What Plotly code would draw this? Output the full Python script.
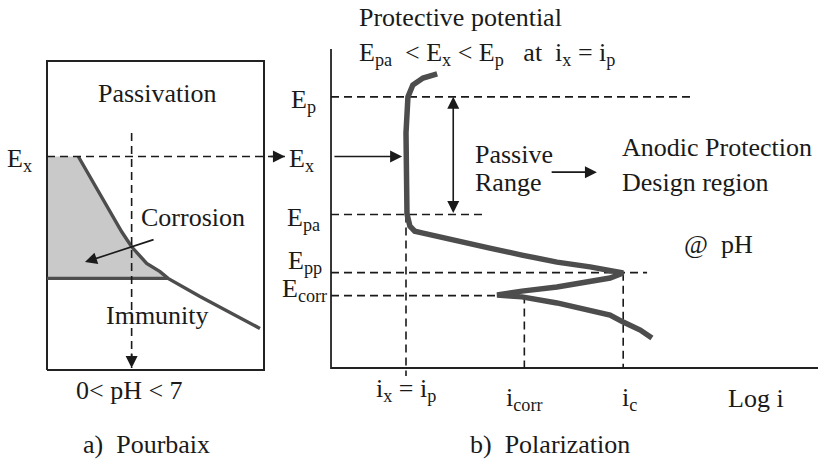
import plotly.graph_objects as go

# ---- potential levels (arbitrary units), shared by both panels ----
E_P, E_X, E_PA, E_PP, E_CORR = 8.50, 6.63, 4.81, 2.99, 2.27
E_AXIS_TOP = 10.0

# ---- current levels on the log-i axis (arbitrary decades) ----
I_P, I_CORR, I_C = 1.54, 3.97, 6.00
LOGI_AXIS_END = 10.0

# anodic polarization curve (log i, E)
curve_logi = [2.18, 1.89, 1.68, 1.58, 1.54, 1.54, 1.54, 1.56, 1.62, 1.72, 1.89,
              2.59, 3.26, 3.92, 4.64, 5.32, 5.77, 6.00, 5.73, 5.32, 4.64, 3.92,
              3.41, 3.68, 3.92, 4.64, 5.32, 5.73, 6.00, 6.35, 6.59]
curve_E = [9.22, 9.09, 8.87, 8.50, 7.37, 6.65, 5.58, 4.83, 4.45, 4.29, 4.23,
           4.01, 3.76, 3.54, 3.32, 3.17, 3.04, 2.98, 2.82, 2.70, 2.54, 2.41,
           2.29, 2.26, 2.23, 2.04, 1.82, 1.66, 1.44, 1.19, 0.94]

# Pourbaix diagram: frame, corrosion boundary, immunity line
PH_MIN, PH_MAX = 0.0, 14.0
POURBAIX_E_MIN, POURBAIX_E_MAX = -0.06, 9.62
boundary_ph = [2.02, 2.77, 3.53, 4.17, 4.82, 5.46, 6.43, 7.29, 7.81, 9.87, 13.74]
boundary_E = [6.63, 6.00, 5.37, 4.80, 4.27, 3.80, 3.28, 3.02, 2.81, 2.24, 1.24]
E_IMMUNITY = 2.81
PH_IMMUNITY_END = 7.81
PH_MARK = 5.46          # the 0<pH<7 working point
PH_EX_ARROW_END = 15.35

FONT = "Liberation Serif, Times New Roman, DejaVu Serif, serif"
INK = "#1a1a1a"
CURVE = "#4d4d4d"
DASH = "8px,5px"

fig = go.Figure()


def line(xs, ys, axis="x", color=INK, width=1.6, dash=None, **kw):
    fig.add_trace(go.Scatter(x=xs, y=ys, xaxis=axis, yaxis="y", mode="lines",
                             line=dict(color=color, width=width, dash=dash),
                             hoverinfo="skip", showlegend=False, **kw))


# ---------------- a) Pourbaix ----------------
n_corner = boundary_ph.index(PH_IMMUNITY_END) + 1
fill_x = [PH_MIN] + boundary_ph[:n_corner] + [PH_MIN, PH_MIN]
fill_y = [E_X] + boundary_E[:n_corner] + [E_IMMUNITY, E_X]
fig.add_trace(go.Scatter(x=fill_x, y=fill_y, xaxis="x", yaxis="y", mode="lines",
                         fill="toself", fillcolor="#c9c9c9",
                         line=dict(width=0), hoverinfo="skip", showlegend=False))

line([PH_MIN, PH_MAX, PH_MAX, PH_MIN, PH_MIN],
     [POURBAIX_E_MIN, POURBAIX_E_MIN, POURBAIX_E_MAX, POURBAIX_E_MAX, POURBAIX_E_MIN],
     width=2, color="#222")
line(boundary_ph, boundary_E, color=CURVE, width=3.4)
line([PH_MIN, PH_IMMUNITY_END], [E_IMMUNITY, E_IMMUNITY], color=CURVE, width=3.4)
line([PH_MIN, PH_EX_ARROW_END], [E_X, E_X], dash=DASH)
line([PH_MARK, PH_MARK], [7.37, 0.0], dash=DASH)

# ---------------- b) Polarization ----------------
line([0, 0, LOGI_AXIS_END], [E_AXIS_TOP, 0, 0], axis="x2", width=1.8, color="#222")
line([0, 7.45], [E_P, E_P], axis="x2", dash=DASH)
line([0, 3.16], [E_PA, E_PA], axis="x2", dash=DASH)
line([0, 6.49], [E_PP, E_PP], axis="x2", dash=DASH)
line([0, 3.55], [E_CORR, E_CORR], axis="x2", dash=DASH)
line([I_P, I_P], [E_PA, -0.25], axis="x2", dash=DASH)
line([I_CORR, I_CORR], [E_CORR, 0], axis="x2", dash=DASH)
line([I_C, I_C], [E_PP, 0], axis="x2", dash=DASH)
line(curve_logi, curve_E, axis="x2", color=CURVE, width=5.5)

# ---------------- arrows ----------------
arrows = [
    # dashed Ex line into the polarization panel
    dict(x=PH_EX_ARROW_END, y=E_X, xref="x", yref="y", ax=-16, ay=0),
    # dashed pH line down to the axis
    dict(x=PH_MARK, y=0.0, xref="x", yref="y", ax=0, ay=-16),
    # corrosion pointer
    dict(x=2.45, y=3.32, xref="x", yref="y", ax=6.97, ay=4.04, axref="x", ayref="y"),
    # Ex onto the passive branch
    dict(x=1.46, y=E_X, xref="x2", yref="y", ax=0.04, ay=E_X, axref="x2", ayref="y"),
    # passive range
    dict(x=2.51, y=E_P, xref="x2", yref="y", ax=2.51, ay=E_PA, axref="x2", ayref="y",
         arrowside="end+start"),
    # passive range -> design region
    dict(x=5.46, y=6.14, xref="x2", yref="y", ax=4.50, ay=6.14, axref="x2", ayref="y"),
]
for a in arrows:
    fig.add_annotation(text="", showarrow=True, arrowhead=2, arrowsize=1.5,
                       arrowwidth=1.6, arrowcolor=INK, **a)

# ---------------- labels ----------------
def label(text, x, y, axis="x", xanchor="center", size=26, yshift=0):
    fig.add_annotation(text=text, x=x, y=y, xref=axis, yref="y", showarrow=False,
                       xanchor=xanchor, yanchor="middle", yshift=yshift,
                       font=dict(family=FONT, size=size, color=INK))


label("Passivation", 7.1, 8.62)
label("Corrosion", 9.45, 4.73)
label("Immunity", 7.1, 1.66)
label("0&lt; pH &lt; 7", 5.35, -0.69)
label("a)  Pourbaix", 6.45, -2.41)
label("E<sub>x</sub>", -2.7, E_X, xanchor="left", yshift=-3)

label("E<sub>p</sub>", -0.27, E_P, axis="x2", xanchor="right", yshift=-4)
label("E<sub>x</sub>", -0.31, E_X, axis="x2", xanchor="right", yshift=-3)
label("E<sub>pa</sub>", -0.19, E_PA, axis="x2", xanchor="right", yshift=-4)
label("E<sub>pp</sub>", -0.14, E_PP, axis="x2", xanchor="right", yshift=11)
label("E<sub>corr</sub>", -0.04, E_CORR, axis="x2", xanchor="right", yshift=6)

label("Protective potential", 0.53, 11.0, axis="x2", xanchor="left")
label("E<sub>pa</sub>  &lt; E<sub>x</sub> &lt; E<sub>p</sub>   at  i<sub>x</sub> = i<sub>p</sub>",
      0.53, 9.87, axis="x2", xanchor="left", yshift=-1)
label("Passive", 2.92, 6.68, axis="x2", xanchor="left")
label("Range", 2.92, 5.83, axis="x2", xanchor="left")
label("Anodic Protection", 5.93, 6.90, axis="x2", xanchor="left")
label("Design region", 5.93, 5.83, axis="x2", xanchor="left")
label("@  pH", 7.21, 3.86, axis="x2", xanchor="left")

label("i<sub>x</sub> = i<sub>p</sub>", I_P, -0.80, axis="x2", yshift=4)
label("i<sub>corr</sub>", I_CORR, -1.00, axis="x2", yshift=1)
label("i<sub>c</sub>", I_C + 0.12, -1.00, axis="x2", yshift=1)
label("Log i", 8.73, -0.94, axis="x2")
label("b)  Polarization", 4.5, -2.41, axis="x2")

hidden = dict(visible=False, showgrid=False, zeroline=False, fixedrange=True)
fig.update_layout(
    width=820, height=461,
    margin=dict(l=0, r=0, t=0, b=0),
    paper_bgcolor="white", plot_bgcolor="white",
    showlegend=False,
    font=dict(family=FONT, size=26, color=INK),
    xaxis=dict(domain=[0, 290 / 820], range=[-3.032, 15.677], **hidden),
    xaxis2=dict(domain=[290 / 820, 1], range=[-0.842, 10.041], anchor="y", **hidden),
    yaxis=dict(domain=[0, 1], range=[-2.915, 11.536], **hidden),
)

fig.write_html("out.html")
